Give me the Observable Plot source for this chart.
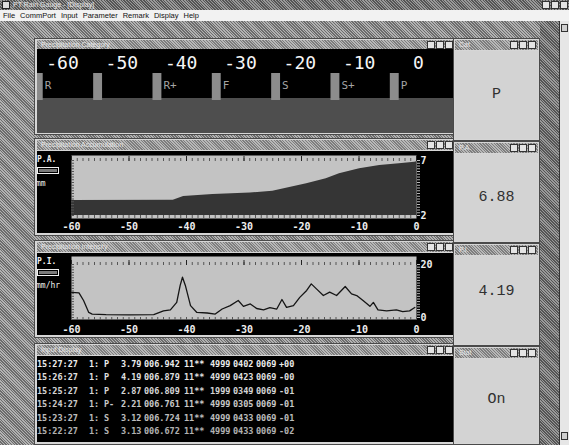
<!DOCTYPE html>
<html><head><meta charset="utf-8">
<script src="https://cdn.jsdelivr.net/npm/d3@7"></script>
<script src="https://cdn.jsdelivr.net/npm/@observablehq/plot@0.6"></script>
<style>
body{margin:0;width:569px;height:445px;overflow:hidden;position:relative;background:#8e8e8e;font-family:"Liberation Sans",Arial,sans-serif;}
.a{position:absolute;box-sizing:border-box;}
.hatch{background:repeating-linear-gradient(45deg,#6c6c6c 0 1px,#b2b2b2 1px 2px);}
.hatchd{background:repeating-linear-gradient(45deg,#555 0 1px,#9a9a9a 1px 2px);}
.frame{background:#d6d6d6;border:1px solid #4a4a4a;}
.tbar{background:repeating-linear-gradient(45deg,#7e7e7e 0 1px,#b8b8b8 1px 2px);color:#e8e8e8;font-size:7px;line-height:10px;padding-left:4px;white-space:nowrap;overflow:hidden;}
.btns{position:absolute;right:2px;top:1px;display:flex;gap:1px;}
.btns span{display:block;width:8px;height:8px;background:#e4e4e4;border:1px solid #333;box-sizing:border-box;}
.blk{background:#000;overflow:hidden;}
.lbl{color:#f0f0f0;font-family:"DejaVu Sans Mono",monospace;font-weight:bold;font-size:8px;line-height:8px;}
.sw{width:22px;height:7px;border:1px solid #f0f0f0;background:#7a7a7a;box-shadow:inset 0 0 0 1px #000;}
.rp{background:#d3d3d3;}
.big{font-family:"Liberation Mono","Courier New",monospace;font-size:15px;color:#303030;text-align:center;width:100%;}
.row{display:grid;grid-template-columns:52px 15px 17px 23px 40px 26px 23px 23px 23px 22px;font-family:"DejaVu Sans Mono",monospace;font-weight:bold;font-size:8.5px;color:#ececec;height:13.4px;line-height:13.4px;white-space:pre;}
</style></head>
<body>
<div class="a hatchd" style="left:0;top:0;width:569px;height:10px;"></div>
<div class="a" style="left:2px;top:1px;width:8px;height:8px;background:#ddd;border:1px solid #222;"></div>
<div class="a" style="left:13px;top:0;height:10px;line-height:10px;font-size:7px;color:#e6e6e6;">PT Rain Gauge - [Display]</div>
<div class="a btns" style="right:1px;top:1px;"><span></span><span></span><span></span></div>
<div class="a" style="left:0;top:10px;width:569px;height:11px;background:#f2f2f2;font-size:7.5px;line-height:11px;color:#111;padding-left:3px;word-spacing:0;">
<span style="margin-right:5px">File</span><span style="margin-right:5px">CommPort</span><span style="margin-right:5px">Input</span><span style="margin-right:5px">Parameter</span><span style="margin-right:5px">Remark</span><span style="margin-right:5px">Display</span><span>Help</span></div>
<div class="a hatch" style="left:0;top:21px;width:569px;height:424px;"></div>
<div class="a hatchd" style="left:540px;top:21px;width:19px;height:424px;"></div>
<div class="a" style="left:559px;top:21px;width:10px;height:424px;background:#e6e6e6;border-left:1px solid #333;"></div>
<div class="a" style="left:561px;top:24px;width:7px;height:8px;background:#cfcfcf;border:1px solid #333;"></div>
<div class="a" style="left:561px;top:432px;width:7px;height:8px;background:#cfcfcf;border:1px solid #333;"></div>
<div id="root"></div>
<script>
// ---------- data ----------
const xTicks = [-60, -50, -40, -30, -20, -10, 0];
const catTime = [-64, -54, -44, -34, -24, -14, -4];
const catLabel = ["R", "", "R+", "F", "S", "S+", "P"];
const paTime = [-60, -42.3, -40.5, -35.4, -28.9, -25, -19.1, -15.7, -13.4, -9.9, -6.4, -3, -0.3, 0];
const paValue = [3.36, 3.38, 3.72, 3.9, 4.05, 4.2, 4.88, 5.34, 5.79, 6.25, 6.55, 6.7, 6.85, 6.88];
const piTime = [-60, -58.7, -57.9, -57, -56.4, -54, -50, -45.7, -44, -42.8, -41.7, -41.1, -40.7, -40.2, -39.3, -38.2, -36.4, -35, -33.8, -32.4, -31, -30.1, -28.9, -27.8, -26.6, -25.5, -24.3, -23.4, -22.6, -21.4, -20.3, -19.1, -18.3, -17.4, -16.2, -15.1, -13.9, -12.4, -11.3, -10.4, -9.3, -8.1, -7.5, -6.7, -5.2, -3.5, -2.4, -1.2, -0.3];
const piValue = [9.5, 9.3, 6.4, 1.9, 1.3, 1.1, 1.0, 1.1, 2.5, 2.9, 5.7, 12.1, 15.2, 12.1, 4.5, 1.9, 1.7, 1.3, 3.2, 4.5, 6.4, 4.2, 5.1, 3.4, 2.9, 3.7, 3.2, 6.8, 3.8, 4.5, 7.6, 10.2, 12.7, 10.8, 8.3, 9.6, 8.3, 11.7, 8.9, 8.3, 6.4, 4.2, 5.7, 2.9, 2.5, 2.9, 2.2, 2.5, 3.8];
const paTicks = [2, 7];
const piTicks = [0, 20];
const rowTime = ["15:27:27", "15:26:27", "15:25:27", "15:24:27", "15:23:27", "15:22:27"];
const rowChan = ["1:", "1:", "1:", "1:", "1:", "1:"];
const rowCat = ["P", "P", "P", "P-", "S", "S"];
const rowPI = ["3.79", "4.19", "2.87", "2.21", "3.12", "3.13"];
const rowPA = ["006.942", "006.879", "006.809", "006.761", "006.724", "006.672"];
const rowFlag = ["11**", "11**", "11**", "11**", "11**", "11**"];
const rowA = ["4999", "4999", "1999", "4999", "4999", "4999"];
const rowB = ["0402", "0423", "0349", "0305", "0433", "0433"];
const rowC = ["0069", "0069", "0069", "0069", "0069", "0069"];
const rowD = ["+00", "-00", "-01", "-01", "-01", "-02"];
const currentCat = "P", currentPA = "6.88", currentPI = "4.19", currentStatus = "On";
const winTitles = ["Precipitation Category", "Precipitation Accumulation", "Precipitation Intensity", "Input Display"];
const sideTitles = ["Cat", "P.A.", "P.I.", "Stat"];

const catData = catTime.map((t, i) => ({t, c: catLabel[i]}));
const pa = paTime.map((t, i) => ({t, v: paValue[i]}));
const pi = piTime.map((t, i) => ({t, v: piValue[i]}));
const fmt = d => String(d);

// ---------- chrome ----------
const root = document.getElementById("root");
function el(cls, style, html) {
  const d = document.createElement("div");
  d.className = "a " + cls;
  d.setAttribute("style", style);
  if (html !== undefined) d.innerHTML = html;
  root.appendChild(d);
  return d;
}
function titleBar(x, y, w, text) {
  const t = el("tbar", `left:${x}px;top:${y}px;width:${w}px;height:10px;`, text);
  const b = document.createElement("div"); b.className = "btns";
  b.innerHTML = "<span></span><span></span><span></span>";
  t.appendChild(b);
}
const wins = [
  {y: 38, h: 97, ty: 40, cy: 49, ch: 84},
  {y: 138, h: 98, ty: 140, cy: 151, ch: 82},
  {y: 240, h: 98, ty: 242, cy: 253, ch: 82},
  {y: 343, h: 102, ty: 345, cy: 356, ch: 86}
];
const blk = [];
wins.forEach((w, i) => {
  el("frame", `left:34px;top:${w.y}px;width:424px;height:${w.h}px;`);
  titleBar(37, w.ty, 418, winTitles[i]);
  blk.push(el("blk", `left:37px;top:${w.cy}px;width:417px;height:${w.ch}px;`));
});
const side = [
  {y: 38, h: 103, ty: 40, text: currentCat, ty2: 95},
  {y: 141, h: 102, ty: 143, text: currentPA, ty2: 198},
  {y: 243, h: 103, ty: 245, text: currentPI, ty2: 292},
  {y: 346, h: 99, ty: 348, text: currentStatus, ty2: 400}
];
side.forEach((s, i) => {
  el("frame", `left:453px;top:${s.y}px;width:87px;height:${s.h}px;`);
  titleBar(455, s.ty, 83, sideTitles[i]);
  el("rp", `left:455px;top:${s.ty + 11}px;width:83px;height:${s.h - 15}px;`);
  el("big", `left:455px;top:${s.ty2 - 9}px;width:83px;height:18px;line-height:18px;`, s.text);
});

// ---------- chart 1: category timeline ----------
blk[0].style.background = "linear-gradient(to bottom,#000 0 49px,#4e4e4e 49px)";
const c1 = Plot.plot({
  width: 417, height: 84,
  marginLeft: 25, marginRight: 36, marginTop: 24, marginBottom: 33,
  style: {background: "transparent", color: "#f6f6f6", fontFamily: "DejaVu Sans Mono", overflow: "hidden"},
  x: {domain: [-60, 0]},
  y: {domain: [0, 1], axis: null},
  marks: [
    Plot.rect(catData, {x1: d => d.t - 0.75, x2: d => d.t + 0.75, y1: 0, y2: 1, fill: "#8c8c8c"}),
    Plot.text(catData, {x: "t", y: 1, text: "c", textAnchor: "start", dx: 6, dy: 12, fill: "#a4a4a4", fontSize: 11}),
    Plot.axisX({anchor: "top", ticks: xTicks, tickFormat: fmt, tickSize: 0, tickPadding: 5, fontSize: 18, fill: "#f6f6f6", label: null})
  ]
});
c1.style.position = "absolute"; c1.style.left = "0"; c1.style.top = "0";
blk[0].appendChild(c1);

// ---------- shared ruler marks ----------
function rulers(yTicksMinor) {
  return [
    Plot.axisX({anchor: "top", ticks: d3.range(-60, 1, 1), tickSize: 3, stroke: "#555", fill: "none", label: null}),
    Plot.axisX({anchor: "bottom", ticks: d3.range(-60, 1, 1), tickSize: 3, stroke: "#555", fill: "none", label: null}),
    Plot.axisX({anchor: "top", ticks: xTicks, tickSize: 5, stroke: "#222", fill: "none", label: null}),
    Plot.axisY({anchor: "left", ticks: yTicksMinor, tickSize: -3, stroke: "#555", fill: "none", label: null}),
    Plot.axisY({anchor: "right", ticks: yTicksMinor, tickSize: 3, stroke: "#bbb", fill: "none", label: null})
  ];
}
const axStyle = {background: "transparent", color: "#eeeeee", fontFamily: "DejaVu Sans Mono", fontSize: "10px", fontWeight: "bold"};

// ---------- chart 2: accumulation ----------
const c2 = Plot.plot({
  width: 417, height: 82,
  marginLeft: 34, marginRight: 38, marginTop: 9, marginBottom: 18,
  style: axStyle,
  x: {domain: [-60, 0]},
  y: {domain: [2, 7]},
  marks: [
    Plot.frame({fill: "#c3c3c3", stroke: "none", insetTop: -5, insetBottom: -3}),
    Plot.areaY(pa, {x: "t", y: "v", fill: "#353535", clip: true}),
    ...rulers(d3.range(2, 7.01, 0.25)),
    Plot.axisX({ticks: xTicks, tickFormat: fmt, tickSize: 0, tickPadding: 7, label: null, fill: "#eeeeee"}),
    Plot.axisY({anchor: "right", ticks: paTicks, tickFormat: fmt, tickSize: 0, tickPadding: 4, label: null, fill: "#eeeeee"})
  ]
});
blk[1].appendChild(c2);

// ---------- chart 3: intensity ----------
const c3 = Plot.plot({
  width: 417, height: 82,
  marginLeft: 34, marginRight: 38, marginTop: 11, marginBottom: 18,
  style: axStyle,
  x: {domain: [-60, 0]},
  y: {domain: [0, 20]},
  marks: [
    Plot.frame({fill: "#c3c3c3", stroke: "none", insetTop: -8, insetBottom: -2}),
    Plot.lineY(pi, {x: "t", y: "v", stroke: "#151515", strokeWidth: 1.3, clip: true}),
    ...rulers(d3.range(0, 20.01, 1)),
    Plot.axisX({ticks: xTicks, tickFormat: fmt, tickSize: 0, tickPadding: 8, label: null, fill: "#eeeeee"}),
    Plot.axisY({anchor: "right", ticks: piTicks, tickFormat: fmt, tickSize: 0, tickPadding: 4, label: null, fill: "#eeeeee"})
  ]
});
blk[2].appendChild(c3);
[c1, c2, c3].forEach(s => { s.style.display = "block"; });

// left legend labels
[[1, "P.A.", "mm"], [2, "P.I.", "mm/hr"]].forEach(([i, a, u]) => {
  const b = blk[i];
  const l1 = document.createElement("div"); l1.className = "a lbl"; l1.style.cssText = "left:0px;top:5px;"; l1.textContent = a; b.appendChild(l1);
  const sw = document.createElement("div"); sw.className = "a sw"; sw.style.cssText = "left:0px;top:16px;"; b.appendChild(sw);
  const l2 = document.createElement("div"); l2.className = "a lbl"; l2.style.cssText = "left:-1px;top:29px;font-weight:normal;"; l2.textContent = u; b.appendChild(l2);
});

// ---------- table ----------
const tb = blk[3];
rowTime.forEach((t, i) => {
  const r = document.createElement("div");
  r.className = "a row";
  r.style.left = "0px"; r.style.top = (2 + i * 13.4) + "px";
  r.style.opacity = String(1 - i * 0.05);
  [t, rowChan[i], rowCat[i], rowPI[i], rowPA[i], rowFlag[i], rowA[i], rowB[i], rowC[i], rowD[i]].forEach(v => {
    const s = document.createElement("span"); s.textContent = v; r.appendChild(s);
  });
  tb.appendChild(r);
});
</script>
</body></html>
